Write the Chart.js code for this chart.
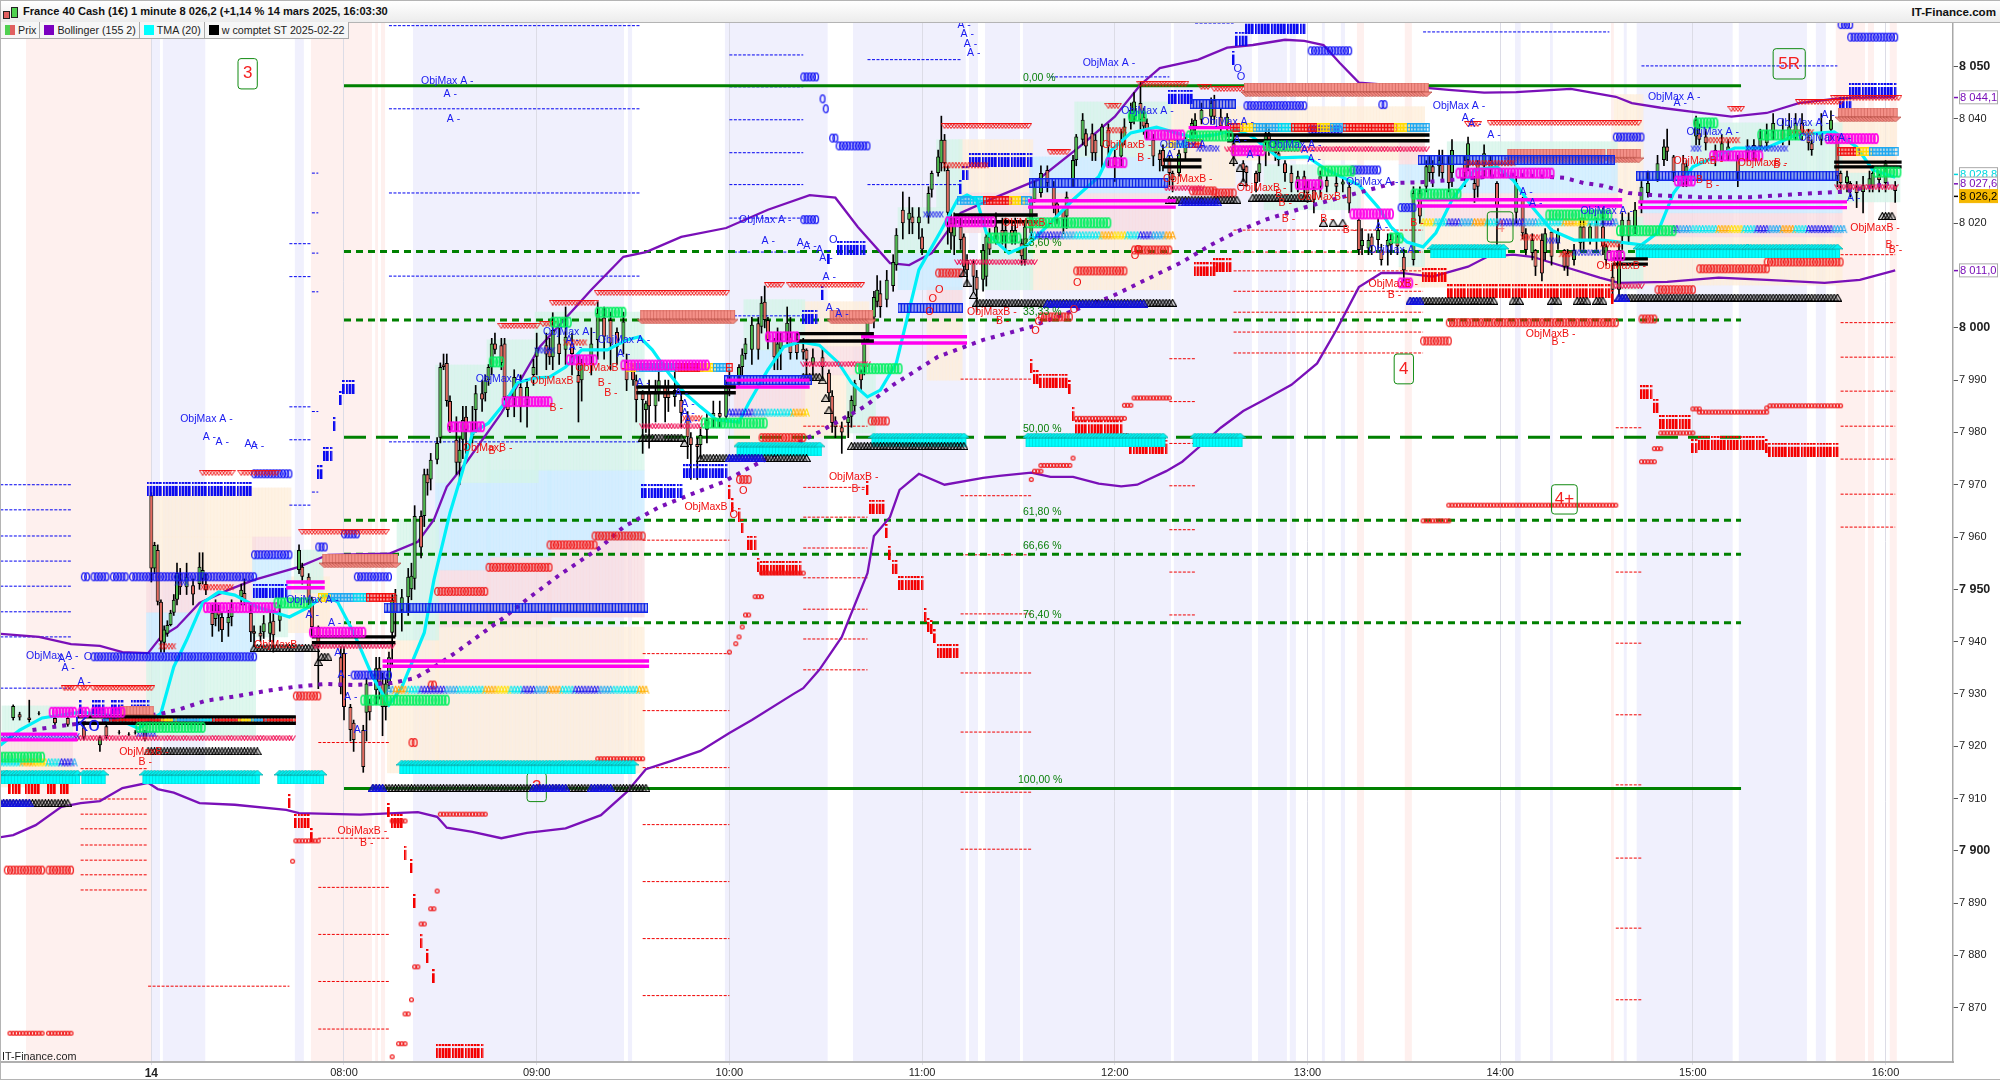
<!DOCTYPE html>
<html>
<head>
<meta charset="utf-8">
<title>France 40 Cash</title>
<script src="https://cdn.jsdelivr.net/npm/chart.js@4/dist/chart.umd.min.js"></script>
<style>
  html, body { margin: 0; padding: 0; background: #fff; overflow: hidden; }
  body { width: 2000px; height: 1080px; position: relative; font-family: "Liberation Sans", Arial, sans-serif; }
  canvas { position: absolute; left: 0; top: 0; }
  #head { position: absolute; left: 0; top: 0; width: 2000px; height: 21px; border-top: 1px solid #b4b4b4; border-bottom: 1px solid #b4b4b4; box-sizing: content-box;
    background: linear-gradient(#ffffff, #ececec); }
  #title { position: absolute; left: 23px; top: 4px; font-size: 11.1px; font-weight: bold; color: #111; white-space: nowrap; }
  #site { position: absolute; right: 4px; top: 4px; font-size: 11.6px; font-weight: bold; color: #111; }
  .ic { position: absolute; border: 1px solid #222; }
  #legend { position: absolute; left: 1px; top: 22px; height: 16px; display: flex; }
  .cell { height: 16px; line-height: 16px; font-size: 10.7px; color: #222; background: #f6f6f6; border-right: 1px solid #aaa; border-bottom: 1px solid #aaa; padding: 0 3px 0 4px; white-space: nowrap; display: flex; align-items: center; }
  .sw { width: 10px; height: 10px; margin-right: 3px; display: inline-block; }
  #leftbar { position: absolute; left: 0; top: 0; width: 1px; height: 1080px; background: #b4b4b4; }
  #botbar { position: absolute; left: 0; top: 1079px; width: 2000px; height: 1px; background: #b4b4b4; }
  #itf { position: absolute; left: 2px; top: 1050px; font-size: 10.8px; color: #222; }
</style>
</head>
<body>
<canvas id="chart" width="2000" height="1080"></canvas>
<div id="head">
  <div class="ic" style="left:3px;top:10px;width:5px;height:6px;background:#e06060"></div>
  <div class="ic" style="left:11px;top:6px;width:5px;height:9px;background:#50d050"></div>
  <div id="title">France 40 Cash (1€) 1 minute 8 026,2 (+1,14 % 14 mars 2025, 16:03:30</div>
  <div id="site">IT-Finance.com</div>
</div>
<div id="legend">
  <div class="cell"><span class="sw" style="background:linear-gradient(90deg,#50d050 50%,#e06060 50%)"></span>Prix</div>
  <div class="cell"><span class="sw" style="background:#7a00c0"></span>Bollinger (155 2)</div>
  <div class="cell"><span class="sw" style="background:#00ffff"></span>TMA (20)</div>
  <div class="cell"><span class="sw" style="background:#000"></span>w comptet ST 2025-02-22</div>
</div>
<div id="leftbar"></div>
<div id="botbar"></div>
<div id="itf">IT-Finance.com</div>

<script>
// times are minutes after 07:00 on the 14th, prices in index points
const hourTicks = [0, 60, 120, 180, 240, 300, 360, 420, 480, 540];
const hourLabels = ['14', '08:00', '09:00', '10:00', '11:00', '12:00', '13:00', '14:00', '15:00', '16:00'];
const priceTicks = [8050, 8040, 8020, 8000, 7990, 7980, 7970, 7960, 7950, 7940, 7930, 7920, 7910, 7900, 7890, 7880, 7870];

// [last price, text, nudge in points so boxes do not overlap]
const priceTags = [[8044.1, '8 044,1', 0, 'bol'], [8028.8, '8 028,8', 0.6, 'tma'], [8027.6, '8 027,6', 0, 'bol'], [8026.2, '8 026,2', -1, 'last'], [8011, '8 011,0', 0, 'bol']];

// candles: [t, open, close, high, low]
const candlesBefore = [[-43,7925.4,7927.7,7927.9,7925],[-41,7926.1,7925.5,7926.5,7925],[-38,7925.5,7925,7928.8,7924.6],[-35,7926.3,7926.2,7926.6,7926],[-30,7925.4,7924.4,7925.6,7923.5],[-26,7925.4,7924.1,7925.7,7923.8],[-21,7923.6,7921.7,7924,7921.2],[-16,7920.2,7921.7,7922,7919],[-14,7923.8,7921.9,7924.2,7921.5],[-10,7922.7,7922.6,7923,7922.3],[-7,7922.3,7922.2,7922.6,7922],[-5,7922.7,7922.6,7923,7922.3],[-2,7922.7,7921.3,7923,7921]];
const candlesH7 = [[0,7968,7954,7968.5,7951.4],[1,7954,7958.5,7959,7953],[2,7957.5,7947.6,7958.5,7947],[3,7947.6,7940,7948,7938],[4,7939.8,7942.3,7943,7938],[5,7941.5,7943.2,7944,7941],[6,7943.2,7945.5,7946,7943],[7,7945.5,7948,7949,7945],[8,7948,7953.1,7955,7947],[9,7951.8,7950.4,7954,7949],[11,7950.4,7952.4,7955,7949],[13,7950.8,7949,7952,7947],[15,7951,7954.3,7957,7950],[16,7952,7953.7,7957,7951],[17,7951,7949.8,7953,7949],[19,7945.5,7943.2,7947,7941],[20,7944.3,7946,7948,7943],[21,7946,7945,7947,7942],[22,7944.7,7942.2,7945.5,7940],[24,7943.5,7944.7,7946,7941],[25,7944.7,7946.6,7948,7943],[28,7948.5,7949.9,7951,7947],[29,7949.3,7948,7952,7947],[31,7945.5,7941.8,7947,7940],[32,7942,7941.5,7943,7939],[34,7941.7,7941,7943,7940],[35,7941.8,7943.5,7945,7940.6],[37,7941.5,7943.7,7946,7940],[38,7944,7941.2,7946,7938],[40,7944,7945.5,7947,7942],[46,7953.7,7957.5,7958.5,7953],[47,7954.3,7952.4,7955,7951],[49,7952.4,7948,7953,7947],[50,7948,7942.8,7948.5,7941],[52,7942.8,7939,7943,7931],[59,7937,7931.3,7939,7930]];
const candlesH8 = [[60,7937.8,7927.5,7939,7925],[62,7927.5,7923.1,7928,7921],[63,7924.5,7921.2,7925,7919],[66,7923.1,7916,7924,7915],[67,7926.4,7932,7933,7921],[68,7928.3,7926.5,7929,7925],[70,7930.7,7934.9,7937,7928],[71,7935,7932.2,7937,7929],[72,7932,7927.5,7934,7922],[73,7927.5,7932,7933,7925],[74,7932,7937,7938,7931],[75,7941.7,7948,7949,7935],[76,7949,7945.5,7950,7941],[78,7946,7948.5,7950,7942],[80,7948.5,7952.4,7954,7945],[81,7950,7952.6,7955,7948],[82,7952,7964,7966,7950],[84,7964,7958,7965,7956],[85,7964,7972,7973,7962],[86,7972,7970.3,7973,7968],[87,7971,7974.8,7976,7969],[89,7974.8,7978,7979,7974],[90,7979,7992.5,7993.3,7978],[91,7993,7992.5,7995,7992],[92,7993.3,7986,7995,7985],[93,7986,7981,7987,7980],[95,7978.6,7974.2,7983,7972],[96,7974.2,7976.7,7979,7970],[97,7978.6,7982.4,7985,7975],[98,7983,7980.5,7985,7976],[100,7979.5,7980.5,7985,7978],[101,7984.3,7987.5,7989,7980],[103,7987.5,7986.3,7990,7984],[104,7987.5,7990,7991,7986],[105,7990,7992.5,7993,7989],[106,7992.5,7997,7998,7991],[107,7997,7995.8,7999,7995],[109,7996.7,7993.3,7998,7992],[110,7997,7986.8,7998,7986],[111,7986.8,7984.3,7987,7983],[113,7986.8,7990.6,7992,7983],[115,7988.7,7984.9,7991,7982],[117,7986.2,7988.7,7990,7981],[119,7991,7992.5,7994,7989]];
const candlesH9 = [[120,7994.5,7996.2,7999,7991],[123,7996.7,7994.9,7999,7992],[124,7996,7994.4,7998,7993],[125,7994.4,7999.6,8002.9,7992],[127,7997,7995,8000,7993],[129,7995.8,7998.3,8004,7993],[131,7997,7995,7999,7991],[133,7991,7989.5,7995,7982],[134,7990,7993,7994,7986],[137,7994.4,7997,8000,7991],[139,7997.7,8002.9,8005,7994],[141,8002,7998.3,8004,7994],[143,8001.5,7997,8003,7992],[145,7999.2,7996.4,8000,7993],[147,7997.4,8001.2,8003,7995],[148,7993.3,7990,7995,7988],[150,7992,7990,7993,7989],[151,7990,7986.2,7991,7982],[153,7987.5,7986.2,7988,7976],[154,7984.3,7985.6,7986,7980],[155,7987.5,7985,7990,7977],[157,7985,7987.5,7990,7982],[158,7987.5,7990,7993,7986],[160,7988.7,7986.6,7990,7982],[161,7987.5,7986.6,7990,7984],[163,7986.8,7988.1,7992,7985],[165,7986.2,7983.7,7988,7981],[167,7982.4,7979.1,7984,7975],[168,7979.1,7977.6,7980,7971],[170,7977.8,7977.2,7979,7971],[171,7977.6,7979.5,7981,7975],[173,7980.5,7982.4,7984,7978],[175,7983,7983.7,7986,7981],[177,7983.7,7983,7986,7981],[179,7983,7988.7,7990,7982]];
const candlesH10 = [[180,7988.7,7990,7992,7987],[183,7990.6,7992.5,7993,7989],[184,7992.5,7994.9,7996,7991],[185,7995,7997,7998,7994],[187,7995.8,8000.6,8002,7993],[189,8000.9,7995.8,8002,7994],[190,8000.2,8004.8,8006,7999],[191,8005,8001.5,8008,8000],[192,8001.5,7997.7,8002,7996],[194,7997.7,7994.4,7998,7992],[195,7994.4,7997,8000,7992],[196,7996,7997.7,7999,7992],[198,7999,8001,8004,7997],[199,7998.3,7995.2,8002,7994],[201,7997,7995.2,7999,7994],[203,7996,7995.3,7998,7994],[204,7995.8,7993.9,7996,7991],[206,7993,7994.4,7996,7991],[209,7994.4,7992.5,7996,7990],[211,7991.4,7987.5,7992,7986],[212,7987,7981.8,7988,7980],[213,7981.8,7981,7983,7979],[215,7981,7980,7982,7976],[217,7981.8,7983,7984,7979],[218,7983,7986.2,7987,7981],[219,7985,7989.5,7990,7984],[221,7991.4,7990,7992,7988],[222,7992.5,7997,7998,7991],[223,7997.7,8002.5,8003,7997],[225,8002,8005.9,8007,8000],[226,8005,8007.3,8010,8004],[227,8006.6,8004,8009,8002],[229,8005.4,8009.2,8011,8004],[231,8008,8012.6,8014,8007],[232,8012,8017.8,8019,8011],[234,8022.6,8020,8026,8017],[236,8020.7,8022,8025,8018],[237,8021.3,8020,8023,8018],[239,8020,8021.3,8023,8017]];
const candlesH11 = [[240,8017.5,8015,8019,8014],[242,8021.3,8025.8,8027,8020],[243,8026.4,8029.6,8030,8025],[245,8029.6,8032.8,8034,8029],[246,8031.5,8036,8040.5,8030],[247,8036,8031.5,8037,8030],[248,8030.2,8022,8031,8016],[249,8020,8018.1,8022,8015],[250,8017.5,8020,8022,8014],[252,8019.4,8016.8,8021,8015],[253,8017.5,8011.7,8018,8010],[254,8013,8011,8014,8008],[256,8012.4,8009.8,8013,8007],[257,8009.8,8007.3,8011,8003],[259,8009.2,8014.9,8016,8007],[260,8009.8,8017.5,8018,8008],[261,8017.5,8015,8019,8014],[263,8017.5,8019.4,8022,8016],[265,8018.7,8017.5,8021,8016],[266,8017.5,8018.7,8021,8015],[268,8018.7,8017.5,8020,8016],[269,8017.5,8018.7,8021,8016],[271,8016.2,8013.7,8017,8012],[272,8013,8019.4,8020,8012],[274,8018.1,8024.5,8025,8017],[275,8024.5,8027,8028,8024],[277,8025.8,8029.6,8031,8025],[279,8030.2,8027.7,8031,8026],[281,8027,8023.2,8028,8022],[282,8023.8,8021.3,8024,8020],[284,8022.6,8020.7,8023,8018],[285,8021.3,8025.1,8026,8019],[287,8028.3,8032.1,8033,8027],[288,8032.1,8036.6,8037,8031],[290,8036,8039.8,8041,8035],[291,8037.2,8034.7,8038,8033],[293,8037.2,8033.4,8039,8032],[294,8036,8033.4,8037,8032],[296,8034.7,8038.5,8039,8030],[298,8037.9,8034.7,8039,8031]];
const candlesH12 = [[300,8032.8,8030.9,8034,8028],[302,8032.8,8036,8038,8031],[303,8036,8038.5,8040,8035],[305,8039.2,8041.7,8043,8038],[306,8040.4,8043.3,8045,8039],[308,8043,8039.8,8047,8038],[309,8040.4,8038.5,8042,8037],[310,8039.2,8037.9,8040,8036],[312,8036,8032.8,8037,8031],[314,8033.4,8032.1,8034,8030],[315,8034,8030.9,8035,8030],[317,8032.1,8029.6,8033,8027],[318,8029.6,8028.3,8030,8026],[320,8029.6,8033.4,8034,8029],[322,8033.4,8036,8037,8032],[324,8037.2,8039.2,8040,8036],[325,8038.5,8039.8,8041,8037],[327,8039.8,8041.7,8043,8039],[330,8040.4,8043,8044,8039],[331,8043.6,8040.4,8044.5,8039],[333,8040.4,8038.5,8042,8037],[335,8038.5,8040.4,8041,8037],[337,8035.3,8032.8,8037,8031],[340,8031.5,8030.2,8032,8028],[341,8030.9,8029.6,8031,8027],[344,8029.6,8027.7,8030,8026],[345,8029.6,8031.5,8033,8028],[347,8035.3,8037.2,8039,8031],[348,8037.2,8036,8038,8033],[350,8035.3,8033.4,8036,8032],[351,8033.4,8032.1,8034,8031],[353,8031.5,8029.6,8032,8028],[355,8029.6,8027.7,8031,8026],[357,8027.7,8029,8030,8026],[359,8029,8027,8030,8025]];
const candlesH13 = [[360,8027,8025.8,8028,8024],[362,8026.4,8024.5,8027,8022],[364,8027,8029,8030,8025],[366,8028.3,8027,8029,8026],[369,8027.7,8027,8029,8026],[371,8027.4,8028,8029,8026],[373,8027,8023.8,8028,8022],[376,8020.7,8014.9,8021,8014],[377,8015.6,8016.8,8019,8014],[379,8015.2,8016.8,8018,8014],[380,8017.5,8015.6,8018,8014],[382,8016.8,8018.7,8021,8015],[383,8015,8013,8016,8012],[385,8015.6,8016.8,8018,8012],[386,8017,8015.9,8018,8014],[388,8017.5,8015.6,8018,8014],[390,8013.6,8011,8015,8009],[393,8013,8025.8,8027,8012],[395,8025.8,8021.3,8027,8020],[397,8027,8030.9,8032,8026],[398,8029.6,8031.5,8033,8028],[399,8030.9,8029.6,8032,8027],[401,8030.9,8032.1,8034,8029],[402,8031.5,8029.6,8034,8028],[404,8031.5,8027.7,8033,8026],[405,8029.6,8034,8036,8027],[409,8032.1,8029.6,8033,8027],[410,8032.1,8035.3,8036.5,8030],[412,8027.7,8026.4,8029,8024],[413,8031.5,8027,8032,8025],[415,8031.5,8033.4,8035,8029],[417,8032.1,8030.2,8033,8029],[419,8027.7,8023.2,8028,8015]];
const candlesH14 = [[425,8022,8027.7,8029,8020],[427,8024.5,8018.1,8025,8017],[428,8018.1,8014.9,8019,8014],[430,8014.3,8016.8,8018,8013],[431,8014.9,8011.7,8015,8010],[433,8016.8,8010.4,8018,8009],[434,8014.3,8018.1,8019,8013],[436,8018.4,8013.6,8019,8012],[438,8016.2,8018.1,8019,8015],[440,8014.9,8011.7,8015,8011],[441,8014.3,8011.7,8015,8010],[443,8013,8014.9,8016,8012],[445,8016.2,8019.4,8021,8015],[446,8019.4,8016.5,8021,8015],[448,8016.8,8019.4,8020,8016],[450,8020,8016.8,8021,8015],[452,8019.4,8015.6,8023,8014],[453,8013,8015.6,8016,8012],[455,8009.8,8007.3,8012,8005],[457,8007.3,8014.9,8016,8006],[458,8017.5,8020.7,8022,8015],[460,8020.7,8017.5,8022,8016],[462,8019.4,8022.6,8024,8018],[464,8023.8,8027,8028,8022],[466,8025.8,8027.7,8030,8025],[469,8028.3,8031.5,8033,8028],[471,8032.1,8034.7,8036,8031],[472,8034.7,8033.7,8038,8032],[474,8032.8,8029.6,8033,8028],[477,8031.5,8029,8033,8027],[478,8028.3,8030.9,8032,8027]];
const candlesH15 = [[481,8036.6,8039.8,8040.5,8035],[482,8037.2,8036,8039,8035],[484,8036.6,8035.3,8038,8034],[487,8034,8032.1,8035,8031],[489,8033.4,8035.3,8037,8032],[491,8032.8,8034.7,8036,8032],[494,8032.1,8029.6,8033,8027],[497,8033.4,8034.7,8036,8032],[499,8035,8033.7,8036,8032],[501,8034.7,8036.3,8038,8034],[503,8035.3,8037.2,8039,8034],[505,8037.5,8039.2,8041,8036],[508,8037.9,8036,8040,8035],[510,8036.6,8038.5,8041,8035],[512,8037.5,8039.2,8041,8036],[514,8039.2,8037.2,8041,8036],[516,8036.6,8035.3,8038,8034],[517,8035.3,8034,8036,8033],[520,8036,8037.2,8041,8035],[523,8037.9,8039.8,8041.5,8036],[525,8036.6,8029,8037,8027],[526,8029.6,8027.7,8030,8026],[528,8027.7,8029,8030,8026],[529,8027.7,8026.4,8028,8025],[531,8027,8025.8,8028,8023],[533,8026,8027.3,8029,8022],[535,8027,8028.6,8030,8026],[536,8027,8029.6,8031,8026],[538,8029.3,8028.3,8029.9,8026],[540,8027.7,8031.5,8032,8026],[543,8027.3,8026.2,8028,8024]];

// indicator lines: [t, price]
const bollingerUp = [[-47,7941.5],[-35,7940.9],[-25,7939.5],[-16,7939.2],[-9,7938],[-1,7937.8],[3,7940.9],[8,7942.8],[15,7947.4],[24,7949.9],[32,7951.8],[46,7954.3],[55,7956.6],[74,7956.8],[83,7959.1],[88,7963.3],[92,7969.6],[98,7974.2],[109,7983.7],[121,7996.4],[137,8007.3],[147,8013.6],[154,8014.5],[165,8017.4],[179,8019.1],[192,8022.6],[205,8025.4],[213,8024.9],[220,8019.3],[230,8012.4],[236,8012],[243,8014.3],[252,8022],[263,8025],[276,8028.3],[289,8034.6],[300,8040.4],[308,8046.5],[314,8049.7],[326,8051.3],[335,8053.6],[343,8054.1],[353,8055.1],[359,8054.9],[365,8054.1],[370,8050.7],[376,8046.9],[397,8045.9],[404,8045.5],[415,8045],[425,8045.1],[442,8045.7],[456,8044.2],[461,8043],[470,8042.1],[480,8041.3],[492,8040.4],[503,8041.1],[513,8043],[524,8043.8],[529,8044],[543,8044.1]];
const bollingerDown = [[-47,7902.6],[-43,7903],[-36,7904.9],[-28,7908.4],[-22,7909.1],[-16,7909.5],[-9,7912],[-1,7913],[2,7911.8],[7,7911.1],[15,7909.1],[26,7908.8],[42,7907.8],[46,7907.2],[65,7906.9],[83,7907.4],[89,7906.5],[92,7904.4],[100,7903.6],[109,7902.4],[117,7903.4],[129,7904.3],[140,7906.8],[148,7911.2],[154,7915.6],[162,7917.2],[171,7919.1],[180,7922.5],[187,7925],[200,7930],[203,7931.1],[208,7934.6],[215,7940.9],[223,7953.1],[225,7960.2],[230,7963.8],[233,7969],[239,7972.1],[247,7970],[259,7971.3],[264,7971.7],[274,7972.3],[280,7971.5],[287,7971.5],[295,7970.2],[302,7969.7],[307,7970],[316,7972.6],[321,7974.4],[327,7977.6],[333,7980.9],[340,7984.1],[347,7986.4],[355,7989.1],[363,7993.2],[369,7999.6],[376,8007.8],[383,8010.5],[389,8010.5],[399,8009.8],[410,8011.7],[416,8013.6],[424,8014],[430,8013.6],[441,8011.5],[451,8009.6],[457,8008.6],[472,8008.8],[488,8009.6],[503,8009.2],[521,8008.6],[532,8009.2],[543,8011]];
const tmaLine = [[-47,7920.2],[-41,7923.1],[-34,7925.4],[-22,7926.5],[-13,7925.9],[-4,7923.4],[3,7926.3],[7,7935.2],[11,7940.3],[16,7947.4],[21,7949.5],[26,7948.9],[33,7946.6],[43,7944.7],[49,7946.6],[54,7948.9],[58,7947.6],[63,7941.7],[69,7933.2],[74,7927.9],[78,7931.3],[85,7941.7],[88,7951.8],[93,7964.6],[97,7972.8],[100,7979.9],[105,7981.8],[110,7985.6],[114,7989.5],[119,7990.4],[124,7990.6],[129,7992.5],[134,7995.8],[142,7995.8],[148,7997.7],[152,7998.3],[156,7995.8],[161,7991.4],[166,7987.6],[171,7984.9],[176,7982.4],[183,7982],[186,7985.6],[192,7992],[197,7996.4],[202,7997.3],[208,7996.7],[214,7993.3],[218,7989.5],[223,7986.8],[227,7988.1],[232,7993.3],[239,8011.1],[246,8018.7],[251,8024.5],[254,8025.4],[257,8024.5],[260,8018.2],[267,8014.3],[273,8015.9],[280,8020.1],[287,8024.5],[295,8028.9],[299,8034],[305,8037.3],[313,8038.4],[319,8037.3],[324,8036.5],[331,8036.9],[338,8037.9],[343,8036.5],[351,8032.5],[360,8032.7],[366,8030.2],[376,8027.3],[382,8023.1],[386,8019.3],[391,8016.4],[396,8015.5],[400,8018.2],[405,8024.5],[412,8030.2],[419,8030.8],[424,8028.3],[430,8023.1],[436,8018.7],[443,8016.8],[452,8016.8],[464,8015.9],[469,8018.2],[474,8025.8],[480,8030.8],[493,8034.4],[503,8034.4],[512,8036.9],[524,8037.5],[531,8034.6],[536,8030.2],[543,8028.8]];
const wComptet = [[-37,7923.1],[-28,7923.9],[3,7926.2],[9,7927.1],[17,7928.7],[27,7929.6],[36,7930.6],[44,7931.3],[54,7931.9],[63,7931.7],[75,7932.1],[82,7933],[88,7935.1],[95,7938],[110,7944.7],[117,7948.1],[127,7952.7],[140,7958.1],[147,7961.9],[158,7965.7],[169,7968.4],[178,7970.5],[186,7973.2],[208,7980.1],[222,7984.9],[231,7989.1],[245,7994.5],[259,7997.7],[274,8000.2],[288,8003.5],[299,8006],[311,8009.6],[321,8012.6],[330,8015.9],[338,8018.4],[347,8020.7],[360,8023.2],[387,8027.7],[397,8027.9],[424,8029.3],[440,8028.7],[446,8027.7],[452,8027.2],[460,8025.8],[467,8025.4],[482,8025],[498,8025],[513,8025.6],[526,8026],[541,8027.6]];

// retracement levels: [price, text]
const fibSolid = [[8046.3, '0,00 %'], [7911.9, '100,00 %']];
const fibShort = [[8014.6, '23,60 %'], [8001.5, '33,33 %'], [7963.2, '61,80 %'], [7956.7, '66,66 %'], [7943.6, '76,40 %']];
const fibLong = [[7979.1, '50,00 %']];

// session shading: [from, to]
const pinkBands = [[-39,0],[49.7,68.7],[69.7,70.6],[71.5,72.8],[375.4,377.6],[390.3,392.5],[454.5,455.4],[524.5,533.6],[534.5,536.4],[541.3,543.5]];
const lavenderBands = [[0,2.7],[3.6,16.8],[44.7,47.5],[81.5,147.2],[148.4,149.7],[178.6,210.6],[218.5,253.6],[254.6,257.4],[259.6,270.5],[271.4,317.5],[318.4,342.7],[344.6,353.6],[354.5,356.4],[364.5,365.4],[370.4,371.7],[424.6,426.4],[435.5,436.4],[458.5,459.4],[462.5,492.4],[494.3,515.5],[518.3,521.4]];

// pale projection blocks: [from, to, top, bottom]
const zonesOrange = [[-47,-25,7916.8,7912.2],[0,43,7969.4,7960],[0,32,7960,7953.3],[43,55,7952.4,7941.7],[74,89,7940.3,7914.9],[89,153,7942.8,7914.9],[182,203,7984.3,7977.2],[203,223,8005,7996.4],[203,217,7991,7979.1],[242,252,8001.5,7990],[252,274,8036,8025.8],[274,317,8018.2,8007.3],[317,337,8043.6,8027],[337,396,8042.3,8032.1],[389,396,8011.7,8007.8],[396,456,8020.1,8007.8],[456,464,8044.6,8007.8],[464,526,8017.4,8008.2],[526,543,8040.4,8029.6]];
const zonesPink = [[-46,-25,7921.2,7916.8],[-1,32,7953.3,7945.5],[32,43,7960,7957],[89,105,7953.7,7942.8],[105,124,7956.2,7942.8],[124,153,7959.4,7944.7],[182,203,7989.1,7984.3],[203,223,7996.4,7991],[242,252,8007.8,8001.5],[252,274,8025.8,8018.2],[274,317,8025.8,8018.2],[389,396,8036,8031.2],[396,456,8025.8,8020.1],[464,526,8022,8017.4]];
const zonesBlue = [[-1,32,7945.5,7936.5],[32,43,7956.2,7948.6],[89,105,7970.4,7953.7],[105,124,7972.8,7956.2],[124,153,7972.8,7959.4],[185,203,7995.8,7989.1],[233,252,8014.3,8007.3],[274,317,8032.7,8025.8],[389,396,8031.2,8027.7],[396,456,8032.5,8025.8],[464,526,8028.9,8022]];
const zonesGreen = [[-46,-25,7927.7,7921.2],[-1,32,7936.5,7921.8],[32,42,7948.6,7940.9],[45,53,7957.5,7949.3],[77,89,7963.3,7940.3],[89,105,7992.9,7970.4],[105,120,7997.7,7970.4],[120,153,8003,7972.8],[185,203,8005.4,7995.8],[217,225,7991,7979.9],[233,252,8023,8014.3],[245,252,8036,8023],[259,274,8018.2,8007.3],[288,317,8043.2,8032.7],[347,376,8031.2,8022.6],[389,396,8027.7,8011.7],[404,456,8035.6,8032.5],[458,464,8021.2,8007.3],[480,526,8039.2,8028.9],[525,544,8029.6,8024.1]];

// thin dotted target levels: [from, to, price]
const blueTargets = [[-47,-25,7970],[-47,-25,7965.2],[-47,-25,7960.2],[-47,-25,7955.4],[-47,-25,7950.6],[-47,-25,7945.7],[-47,-25,7940.9],[-47,-25,7931.1],[43,50,8016.1],[43,50,8009.8],[43,50,7984.9],[43,50,7978.6],[43,50,7966.1],[50,52,8029.6],[50,52,8022],[50,52,8014.3],[50,52,8006.9],[50,52,7984],[50,52,7968.6],[74,152,8057.8],[74,152,8041.9],[74,152,8025.8],[74,152,8009.9],[74,152,7978.2],[180,203,8052.2],[180,203,8046.1],[180,203,8039.8],[180,203,8033.5],[180,203,8027.4],[180,203,8021],[180,203,8014.5],[180,203,8002.3],[223,252,8051.3],[223,252,8027.4],[280,317,8048],[325,337,8058.3],[396,454,8056.6],[464,525,8050.1]];
const redTargets = [[-22,-1,7915.7],[-22,-1,7909.9],[-22,-1,7907],[-22,-1,7904.2],[-22,-1,7901.1],[-22,-1,7898.2],[-22,-1,7895.4],[-22,-1,7892.5],[-1,43,7874.1],[52,74,7920.7],[52,74,7902.4],[52,74,7893],[52,74,7884],[52,74,7875],[52,74,7865.9],[153,180,7959.4],[153,180,7937.7],[153,180,7926.8],[153,180,7915.9],[153,180,7905],[153,180,7894.1],[153,180,7883.2],[153,180,7872.3],[203,223,7981.2],[203,223,7969.5],[203,223,7963.8],[203,223,7957.9],[203,223,7952.2],[203,223,7946.2],[203,223,7940.5],[203,223,7934.6],[252,274,7990.2],[252,274,7967.9],[252,274,7956.6],[252,274,7945.3],[252,274,7934],[252,274,7922.7],[252,274,7911.2],[252,274,7900.3],[317,325,7994.1],[317,325,7985.9],[317,325,7977.9],[317,325,7969.8],[317,325,7961.4],[317,325,7953.3],[317,325,7945.1],[337,396,8018.7],[337,396,8014.5],[337,396,8010.9],[337,396,8007],[337,396,8003],[337,396,7999.2],[337,396,7995.2],[456,464,7980.9],[456,464,7953.3],[456,464,7939.7],[456,464,7926],[456,464,7912.6],[456,464,7898.6],[456,464,7885.2],[456,464,7871.5],[526,543,8014],[526,543,8001],[526,543,7994.4],[526,543,7987.9],[526,543,7981.2],[526,543,7974.9],[526,543,7968.2],[526,543,7961.9]];

// marker rows, one mark per minute: [from, to, price]
const blueIs = [[-1,31,7969.2],[32,42,7949.7],[-22,-22,7927.4],[-18,-15,7927.4],[-12,-9,7927.4],[-6,-1,7927.4],[60,63,7988.7],[59,59,7986.6],[57,57,7981.6],[54,56,7975.9],[52,53,7972.4],[255,274,8032.1],[253,254,8029.6],[252,252,8027],[214,222,8015.3],[211,211,8013.6],[317,324,8044.2],[341,359,8057.6],[338,341,8055.3],[337,337,8051.7],[529,543,8045.5],[526,529,8042.8],[153,165,7968.8],[166,179,7972.6],[203,207,8002.1],[209,209,8006.7]];
const redIs = [[-44,-41,7912.2],[-39,-35,7912.2],[-32,-30,7912.2],[-28,-26,7912.2],[43,43,7909.5],[45,49,7905.7],[50,50,7903],[74,74,7907.8],[75,78,7905.7],[79,79,7899.6],[81,81,7897.1],[82,82,7890.4],[84,84,7882.7],[86,86,7879.9],[88,88,7876],[89,103,7861.7],[233,240,7951.2],[241,241,7945.1],[242,242,7943.2],[243,243,7942.8],[244,244,7941],[245,251,7938.2],[180,180,7968.6],[181,181,7966.1],[183,183,7964.3],[184,184,7962.1],[186,188,7958.9],[189,189,7954.7],[190,202,7954.1],[223,223,7969.4],[224,228,7965.8],[229,229,7961.2],[230,230,7957],[231,232,7954.3],[274,274,7992.7],[275,276,7990.6],[277,285,7989.9],[286,286,7988.7],[287,287,7983.5],[288,302,7981],[303,304,7978.6],[305,316,7977.3],[464,467,7987.7],[468,469,7985.1],[470,479,7982],[480,481,7977.4],[482,502,7978],[503,503,7977.4],[504,525,7976.7],[396,403,8010.1],[404,454,8007],[455,455,8006],[325,331,8011.2],[331,336,8012]];
const redRingsBig = [[-45,-34,7896.3],[-32,-25,7896.3],[45,52,7929.6],[81,82,7920.7],[87,88,7931.7],[89,104,7949.6],[105,124,7954.2],[124,138,7958.5],[138,153,7960.2],[190,203,7979],[224,229,7982.2],[183,186,7971],[245,252,8010.5],[288,303,8010.9],[306,317,8014.9],[324,331,8026.2],[331,337,8025.8],[277,286,8002.1],[396,404,7997.5],[404,456,8001],[464,468,8001.7],[469,480,8007.3],[482,503,8011.3],[503,526,8012.6]];
const redRingsSmall = [[-44,-34,7865.1],[-32,-25,7865.1],[45,52,7901.9],[44,44,7898],[75,79,7905.7],[90,104,7907],[89,89,7892.3],[87,88,7888.9],[84,85,7886],[82,83,7877.8],[81,81,7871.5],[79,80,7868.8],[77,79,7863.1],[75,75,7860.6],[139,153,7917.6],[180,180,7938],[182,182,7939.6],[183,183,7940.9],[184,184,7942.8],[185,186,7945.1],[188,190,7948.6],[190,203,7953.1],[277,286,7973.7],[275,277,7972.6],[274,274,7971],[287,287,7975.1],[288,303,7982.7],[303,305,7985.2],[306,317,7986.6],[396,404,7963.1],[404,456,7966.1],[464,468,7974.4],[468,470,7976.9],[470,480,7979.9],[480,482,7984.5],[482,503,7983.9],[503,503,7984.7],[504,526,7985.1]];
const blueRings = [[-21,-20,7952.4],[-18,-14,7952.4],[-12,-8,7952.4],[-6,32,7952.4],[32,43,7956.6],[32,43,7972.1],[-18,-13,7937.1],[-12,-8,7937.1],[-7,32,7937.1],[63,74,7933.6],[64,74,7952.4],[52,54,7958.1],[60,64,7960.6],[203,207,8048],[214,223,8034.8],[203,207,8020.7],[341,359,8042.5],[361,373,8053],[361,370,8037.9],[374,382,8030.2],[456,464,8036.5],[389,393,8023],[529,543,8055.6],[526,529,8058],[383,384,8042.7],[209,209,8043.8],[210,210,8041.9],[212,213,8036.3]];
const redVs = [[-27,-24,7931.1],[-22,-20,7931.1],[-18,-13,7931.1],[-12,-7,7931.1],[-6,0,7931.1],[16,25,7972.3],[28,39,7972.3],[47,73,7961],[109,120,8000.4],[122,125,8000.8],[125,127,8004.8],[128,138,8004.8],[139,179,8006.7],[192,196,8008.2],[199,221,8008.2],[247,273,8038.6],[280,285,8033.6],[298,301,8042.5],[308,322,8046.7],[327,329,8046.1],[331,340,8045.7],[410,413,8039],[417,463,8039.2],[492,495,8041.9],[513,526,8043.2],[524,544,8044]];
const salmonRows = [[-9,0,7926.3],[54,76,7955.4],[153,181,8002],[212,224,8002],[341,397,8045.5],[423,452,8032.9],[454,463,8032.9],[526,543,8040.7]];
const cyanRows = [[-47,-45,7914.1],[-45,-33,7914.1],[-32,-23,7914.1],[-21,-19,7914.1],[-18,-15,7914.1],[-2,33,7914.1],[40,53,7914.1],[78,150,7916],[183,208,7976.9],[225,253,7978.6],[273,315,7978.6],[325,339,7978.6],[399,421,8014.7],[463,497,8014.7],[497,525,8014.7]];
const blackTriangles = [[-47,-45,7909.1],[-44,-33,7909.1],[-32,-26,7909.1],[-1,33,7919],[32,51,7938.8],[69,154,7912],[153,165,7979],[171,204,7975.1],[218,253,7977.4],[203,208,7990.6],[257,318,8004.8],[317,338,8024.5],[343,360,8024.9],[392,418,8005.2],[424,426,8005.2],[436,438,8005.2],[444,447,8005.2],[450,452,8005.2],[457,525,8005.8],[253,253,8010.5],[254,254,8008.6],[256,256,8006.3],[337,337,8032.1],[339,339,8030.6],[340,340,8027.9],[365,365,8020.1],[368,368,8020.1],[371,371,8020.1],[166,166,7978],[209,209,7990],[210,210,7986.6],[211,211,7984.3],[539,542,8021.4],[52,52,7936.1],[53,55,7937.1]];
const blueTriangles = [[-47,-45,7909.1],[-44,-38,7909.1],[69,72,7912],[119,123,7912],[124,129,7912],[137,140,7912],[141,143,7912],[279,309,8004.6],[321,332,8024],[392,395,8005.2],[457,459,8005.8],[180,190,7975.1]];
const letterRowsA = [[-47,-24,7916.8],[74,154,7930.7],[180,204,7983.7],[274,318,8017.6],[396,456,8020.1],[474,527,8018.8]];
const letterRowsB = [[-14,44,7925],[53,75,7948.4],[252,273,8024.3],[149,180,7992.4],[336,389,8038.3],[389,397,8038.3],[317,326,8035.2],[526,543,8033.7]];
const magentaRings = [[93,103,7981.1],[110,124,7985.9],[130,138,7993.9],[147,173,7992.9],[192,201,7998.3],[17,39,7946.5],[50,66,7941.8],[-31,-24,7926.5],[-22,-20,7926.5],[-18,-13,7926.5],[-12,-9,7926.5],[248,262,8020.3],[310,321,8036.9],[298,303,8031.6],[337,346,8033.9],[357,364,8027.4],[374,386,8021.8],[407,436,8029.6],[454,458,8013.8],[475,480,8028.1],[486,501,8032.9],[522,537,8036.2],[389,392,8008.6]];
const greenRings = [[125,130,8001.1],[139,147,8003],[106,109,7993.5],[172,191,7981.8],[220,233,7992.2],[-4,16,7923.6],[-47,-34,7917.9],[39,49,7947.4],[66,92,7928.8],[273,298,8020.1],[261,270,8017.2],[305,309,8040.5],[323,336,8036.7],[347,357,8034.8],[364,374,8030],[386,389,8017.2],[393,407,8025.6],[435,454,8021.6],[457,474,8018.6],[481,487,8039.2],[501,513,8036.9],[537,544,8029.8]];
const blueBlocks = [[73,154,7946.5],[179,205,7990],[233,252,8003.8],[274,316,8027.7],[324,337,8042.8],[395,455,8032.1],[463,525,8029.1]];
const crimsonRows = [[-23,44,7921.6],[51,75,7939.2],[153,171,7981.2],[203,223,7993.1],[251,275,8012.6],[316,327,8026.8],[335,397,8034.2],[456,464,8008],[525,543,8027]];
const blueCrosses = [[497,509,8034.4],[443,451,8014.5],[435,438,8016.8],[480,482,8034.4],[241,246,8021.8],[326,332,8034.4],[120,125,7995.8],[8,11,7951.4],[-14,-11,7925.8],[-4,1,7922.5],[-47,-23,7922]];
const redCrosses = [[129,135,7997.3],[166,171,7982.8],[247,260,8031.2],[298,303,8037.9],[410,424,8031.6],[427,432,8017.4],[439,442,8014.2],[452,457,8016.1],[485,494,8036],[511,517,8037.5],[16,25,7950.5],[3,7,7939.2]];

// double bars: [from, to, price]
const magentaBars = [[-47,-23,7922.3],[-47,-23,7921.2],[72,155,7936.3],[72,155,7935.3],[179,205,7990],[179,205,7988.7],[221,254,7998.3],[221,254,7997.1],[273,319,8024.3],[273,319,8023.1],[323,336,8038.3],[394,458,8024.5],[394,458,8023.3],[463,528,8024.1],[463,528,8023],[42,54,7951.4],[42,54,7950.3]];
const blackBars = [[-23,45,7925.6],[-23,45,7924.4],[50,76,7940.9],[50,76,7939.8],[151,182,7988.7],[151,182,7987.6],[201,225,7998.9],[201,225,7997.5],[250,276,8021.6],[250,276,8020.3],[315,327,8032.1],[315,327,8030.8],[335,398,8036.9],[335,398,8035.8],[455,466,8013.2],[455,466,8012.2],[524,545,8031.7],[524,545,8030.8]];

// chart notes: [t, price]
const labelsObjMaxA = [[84,8047.2],[9,7982.6],[-39,7937.3],[101,7990.2],[122,7999.2],[139,7997.7],[183,8020.7],[290,8050.7],[302,8041.5],[348,8035],[372,8027.9],[327,8039.4],[399,8042.5],[466,8044.2],[478,8037.5],[506,8039.2],[513,8036.2],[445,8022.4],[42,7948],[379,8014.9],[314,8035]];
const labelsA = [[91,8044.8],[92,8040],[16,7979.1],[20,7978.2],[29,7977.8],[31,7977.4],[-29,7936.7],[-28,7935],[-23,7932.3],[55,7943.5],[48,7945.1],[57,7937.8],[58,7933.6],[60,7929.4],[63,7923.1],[129,7997.7],[130,7996.4],[145,7994.9],[151,7989.5],[163,7987.5],[165,7985.5],[165,7983.7],[166,7982.4],[210,8003.8],[213,8002.7],[190,8016.6],[201,8016.2],[203,8015.7],[207,8014.9],[208,8013.4],[209,8009.8],[251,8058],[252,8056.2],[253,8054.3],[254,8052.6],[358,8034],[360,8032.3],[316,8033.1],[337,8036],[341,8033.1],[381,8019.3],[408,8040.2],[410,8039],[416,8036.9],[474,8043],[426,8026],[429,8023.9],[528,8024.9],[520,8040.7]];
const labelsObjMaxB = [[-10,7918.9],[58,7903.8],[32,7939.4],[97,7977],[118,7989.9],[132,7992.4],[166,7965.8],[211,7971.5],[296,8035],[315,8028.5],[265,8020.1],[254,8003],[338,8026.8],[357,8025],[379,8008.4],[474,8031.8],[494,8031.6],[529,8019.1],[450,8011.9],[428,7998.9]];
const labelsB = [[-4,7917],[65,7901.5],[105,7976.4],[124,7984.7],[139,7989.5],[141,7987.5],[218,7969.2],[307,8032.5],[350,8025.6],[351,8023.9],[352,8020.8],[364,8020.8],[371,8018.7],[385,8006.3],[481,8028.3],[484,8027.4],[505,8031.2],[436,7997.3],[263,8001.3],[392,8020.1],[540,8015.9],[541,8014.9]];
const labelsRedO = [[183,7968.8],[180,7964.3],[244,8007.3],[242,8005.5],[241,8003],[287,8008.6],[274,7999.4],[275,8001.2],[286,8003.4],[305,8013.7],[306,8014.9]];
const labelsBlueO = [[-21,7937.1],[338,8048],[337,8049.6],[211,8016.8]];

// wave counts in a box: [from, to, top, bottom, text]
const waveBoxes = [[27,33,8051.5,8045.7,'3'],[505,515,8053.4,8047.6,'5R'],[387,393,7995,7989.3,'4'],[436,444,7970,7964.4,'4+']];
const waveBoxesFaint = [[416,424,8022.2,8016.4,'4']];
const waveBoxesBehind = [[117,123,7914.9,7909.4,'3']];

// ---- helpers ----
const fontFamily = '"Liberation Sans", Arial, sans-serif';

function perMinute(rows) {
  const pts = [];
  rows.forEach(function (r) {
    for (let t = r[0]; t <= r[1]; t++) pts.push({ x: t, y: r[2] });
  });
  return pts;
}

function zoneBars(rows) {
  const pts = [];
  rows.forEach(function (r) {
    for (let t = r[0]; t <= r[1]; t++) pts.push({ x: t, y: [r[3], r[2]] });
  });
  return pts;
}

function segments(rows) {
  const pts = [];
  rows.forEach(function (r) {
    pts.push({ x: r[0], y: r[2] }, { x: r[1], y: r[2] }, { x: r[1], y: null });
  });
  return pts;
}

function xy(rows) {
  return rows.map(function (r) { return { x: r[0], y: r[1] }; });
}

// little canvases used as point styles
function glyph(w, h, paint) {
  const c = document.createElement('canvas');
  c.width = w;
  c.height = h;
  paint(c.getContext('2d'), w, h);
  return c;
}

function ring(color, w, h, lw) {
  return glyph(w + 2, h + 2, function (g, cw, ch) {
    g.strokeStyle = color;
    g.lineWidth = lw;
    g.beginPath();
    g.ellipse(cw / 2, ch / 2, w / 2 - lw / 2, h / 2 - lw / 2, 0, 0, Math.PI * 2);
    g.stroke();
  });
}

function iMark(color) {
  return glyph(3, 14, function (g) {
    g.fillStyle = color;
    g.fillRect(0, 0, 2.4, 2);
    g.fillRect(0, 4, 2.4, 10);
  });
}

function triangleDown(line) {
  return glyph(8, 6, function (g) {
    g.strokeStyle = line;
    g.lineWidth = 1;
    g.beginPath();
    g.moveTo(0.5, 0.5);
    g.lineTo(7.5, 0.5);
    g.lineTo(4, 5.5);
    g.closePath();
    g.stroke();
  });
}

function triangleUp(fill, line) {
  return glyph(9, 8, function (g) {
    g.fillStyle = fill;
    g.strokeStyle = line;
    g.lineWidth = 1.1;
    g.beginPath();
    g.moveTo(0.5, 7.5);
    g.lineTo(8.5, 7.5);
    g.lineTo(4.5, 0.5);
    g.closePath();
    g.fill();
    g.stroke();
  });
}

function upArrow() {
  return glyph(11, 14, function (g) {
    g.fillStyle = '#00ffff';
    g.fillRect(3, 4, 5, 10);
    g.strokeStyle = 'rgba(0,170,170,0.45)';
    g.lineWidth = 0.8;
    g.strokeRect(3.5, 5, 4, 9);
    g.beginPath();
    g.moveTo(0, 5);
    g.lineTo(11, 5);
    g.lineTo(5.5, 0);
    g.closePath();
    g.fillStyle = '#00f4f4';
    g.fill();
    g.strokeStyle = '#10a8a8';
    g.stroke();
  });
}

function downArrow() {
  return glyph(11, 14, function (g) {
    g.fillStyle = '#f49088';
    g.fillRect(3, 0, 5, 10);
    g.strokeStyle = 'rgba(200,90,80,0.7)';
    g.lineWidth = 0.8;
    g.strokeRect(3.5, 0, 4, 9);
    g.beginPath();
    g.moveTo(0, 9);
    g.lineTo(11, 9);
    g.lineTo(5.5, 14);
    g.closePath();
    g.fillStyle = '#f48c84';
    g.fill();
    g.strokeStyle = '#b85048';
    g.stroke();
  });
}

function letter(ch, color) {
  return glyph(9, 11, function (g) {
    g.fillStyle = color;
    g.font = '10px ' + fontFamily;
    g.textAlign = 'center';
    g.textBaseline = 'middle';
    g.fillText(ch, 4.5, 6);
  });
}

function boxMark(color) {
  return glyph(7, 9, function (g) {
    g.strokeStyle = color;
    g.lineWidth = 1.2;
    g.strokeRect(0.6, 0.6, 5.6, 7.6);
    g.beginPath();
    g.moveTo(0.6, 4.5);
    g.lineTo(6, 4.5);
    g.stroke();
  });
}

function block() {
  return glyph(4, 10, function (g) {
    g.strokeStyle = '#1028e8';
    g.lineWidth = 1.4;
    g.strokeRect(0.7, 0.7, 2.6, 8.6);
  });
}

function zig(color) {
  return glyph(7, 6, function (g) {
    g.strokeStyle = color;
    g.lineWidth = 1.1;
    g.beginPath();
    g.moveTo(0.5, 0.5);
    g.lineTo(3.5, 5.5);
    g.lineTo(6.5, 0.5);
    g.stroke();
  });
}

function rowSet(rows, style, extra) {
  return Object.assign({
    type: 'scatter',
    data: perMinute(rows),
    pointStyle: style,
    pointRadius: 5,
    showLine: false
  }, extra || {});
}

function zoneSet(rows, color) {
  return {
    type: 'bar',
    data: zoneBars(rows),
    backgroundColor: color,
    grouped: false,
    barPercentage: 1,
    categoryPercentage: 1,
    maxBarThickness: 3.3
  };
}

function levelSet(rows, color, width, dash) {
  return {
    type: 'line',
    data: segments(rows),
    borderColor: color,
    borderWidth: width,
    borderDash: dash || [],
    pointRadius: 0,
    spanGaps: false,
    fill: false,
    tension: 0
  };
}

function curveSet(rows, color, width, dash) {
  return {
    type: 'line',
    data: xy(rows),
    borderColor: color,
    borderWidth: width,
    borderDash: dash || [],
    pointRadius: 0,
    fill: false,
    tension: 0
  };
}

function fibRows(levels) {
  return levels.map(function (l) { return [60, 495, l[0]]; });
}

// ---- candles ----
const allCandles = [].concat(candlesBefore, candlesH7, candlesH8, candlesH9, candlesH10, candlesH11, candlesH12, candlesH13, candlesH14, candlesH15);
const wicks = allCandles.map(function (c) { return { x: c[0], y: [c[4], c[3]] }; });
const bodies = allCandles.map(function (c) { return { x: c[0], y: [c[1], c[2]] }; });
const bodyColors = allCandles.map(function (c) { return c[2] >= c[1] ? '#4cb84c' : '#e2695e'; });

// repeating colours of the letter rows
const letterPalette = ['#1818f0', '#1818f0', '#20a8f0', '#00e8f0', '#00e8f0', '#ffb000', '#ffe000', '#00e8f0', '#1818f0', '#20a8f0', '#ffa000', '#00e8f0'].map(function (c) { return letter('A', c); });
const boxPalette = ['#f01010', '#f01010', '#f01010', '#f01010', '#ffd800', '#20a8f0', '#20a8f0', '#00d8f0', '#f01010', '#f01010', '#ffd800', '#20a8f0'].map(boxMark);

// bottom layer comes first in this list
const layers = [
  zoneSet(zonesOrange, 'rgba(253,238,218,0.75)'),
  zoneSet(zonesPink, 'rgba(248,220,224,0.75)'),
  zoneSet(zonesBlue, 'rgba(205,236,255,0.8)'),
  zoneSet(zonesGreen, 'rgba(212,244,232,0.75)'),
  levelSet(blueTargets, '#0000f0', 1, [3, 1.5]),
  levelSet(redTargets, '#f00000', 1, [3, 1.5]),
  levelSet(fibRows(fibSolid), '#008000', 3),
  levelSet(fibRows(fibShort), '#008000', 3, [7, 5]),
  levelSet(fibRows(fibLong), '#008000', 3, [22, 10]),
  curveSet(bollingerUp, '#7a10b8', 2.3),
  curveSet(bollingerDown, '#7a10b8', 2.3),
  { type: 'bar', data: wicks, backgroundColor: '#000', grouped: false, barPercentage: 1, categoryPercentage: 1, maxBarThickness: 1 },
  { type: 'bar', data: bodies, backgroundColor: bodyColors, borderColor: '#000', borderWidth: 1, borderSkipped: false, grouped: false, barPercentage: 1.3, categoryPercentage: 1, maxBarThickness: 4 },
  curveSet(tmaLine, '#00f0f8', 3.2),
  curveSet(wComptet, '#7a10b8', 4, [4, 6]),
  rowSet(redIs, iMark('#f40000')),
  rowSet(blueIs, iMark('#0a0af0')),
  rowSet(redRingsBig, ring('#f01818', 6, 9, 1.3)),
  rowSet(redRingsSmall, ring('#f01818', 5, 5, 1.2)),
  rowSet(blueRings, ring('#1010f4', 6, 9, 1.3)),
  rowSet(redVs, triangleDown('#f01010')),
  rowSet(salmonRows, downArrow()),
  rowSet(cyanRows, upArrow()),
  rowSet(blackTriangles, triangleUp('rgba(120,120,120,0.3)', '#000')),
  rowSet(blueTriangles, triangleUp('rgba(30,30,240,0.5)', '#1010e0')),
  rowSet(letterRowsA, function (c) { return letterPalette[((c.raw.x + 60) >> 2) % letterPalette.length]; }),
  rowSet(letterRowsB, function (c) { return boxPalette[((c.raw.x + 60) >> 2) % boxPalette.length]; }),
  rowSet(crimsonRows, zig('#f0185c')),
  rowSet(blueBlocks, block()),
  rowSet(blueCrosses, letter('x', '#1818f0')),
  rowSet(redCrosses, letter('x', '#f01010')),
  levelSet(magentaBars, '#ff00f0', 3.4),
  levelSet(blackBars, '#000', 3.4),
  rowSet(magentaRings, ring('#ff00e8', 6, 11, 1.7)),
  rowSet(greenRings, ring('#00f060', 6, 11, 1.6))
];

// the first dataset of a chart is painted last, so flip the list
const datasets = layers.slice().reverse();

function drawBoxes(g, x, y, rows, textColor) {
  rows.forEach(function (b) {
    const x0 = x.getPixelForValue(b[0]), x1 = x.getPixelForValue(b[1]);
    const y0 = y.getPixelForValue(b[2]), y1 = y.getPixelForValue(b[3]);
    g.strokeStyle = '#118a11';
    g.lineWidth = 1;
    g.beginPath();
    g.roundRect(x0, y0, x1 - x0, y1 - y0, 3);
    g.stroke();
    g.fillStyle = textColor;
    g.font = '17px ' + fontFamily;
    g.textAlign = 'center';
    g.fillText(b[4], (x0 + x1) / 2, (y0 + y1) / 2);
    g.textAlign = 'left';
  });
}

// ---- plugins ----
const shadingPlugin = {
  id: 'shading',
  beforeDraw: function (chart) {
    const g = chart.ctx, a = chart.chartArea, x = chart.scales.x;
    g.save();
    function paint(rows, color) {
      g.fillStyle = color;
      rows.forEach(function (r) {
        const x0 = x.getPixelForValue(r[0]);
        const x1 = x.getPixelForValue(r[1]);
        g.fillRect(x0, a.top, x1 - x0, a.bottom - a.top);
      });
    }
    paint(pinkBands, '#fef0ee');
    paint(lavenderBands, '#f0f0fd');
    g.restore();
  },
  beforeDatasetsDraw: function (chart) {
    const g = chart.ctx;
    g.save();
    g.textBaseline = 'middle';
    drawBoxes(g, chart.scales.x, chart.scales.y, waveBoxesBehind, '#f42020');
    g.restore();
  }
};

const notesPlugin = {
  id: 'notes',
  afterDatasetsDraw: function (chart) {
    const g = chart.ctx, x = chart.scales.x, y = chart.scales.y;
    g.save();
    g.textBaseline = 'middle';
    g.textAlign = 'left';

    function write(rows, text, color, font) {
      g.fillStyle = color;
      g.font = font;
      rows.forEach(function (r) {
        g.fillText(text, x.getPixelForValue(r[0]), y.getPixelForValue(r[1]));
      });
    }
    const small = '10.5px ' + fontFamily;
    write(labelsObjMaxA, 'ObjMax A -', '#1a1af0', small);
    write(labelsA, 'A -', '#1a1af0', small);
    write(labelsObjMaxB, 'ObjMaxB -', '#f01010', small);
    write(labelsB, 'B -', '#f01010', small);
    write(labelsRedO, 'O', '#f01010', '11px ' + fontFamily);
    write(labelsBlueO, 'O', '#1a1af0', '11px ' + fontFamily);
    write([[-24, 7924]], 'Ko', '#1a1af0', '21px ' + fontFamily);

    // percentages sit just above their level line
    g.font = '10.5px ' + fontFamily;
    g.fillStyle = '#0a800a';
    fibSolid.concat(fibShort, fibLong).forEach(function (l) {
      const left = l[1] === '100,00 %' ? 1018 : 1023;
      g.fillText(l[1], left, y.getPixelForValue(l[0]) - 8);
    });

    // boxed wave counts
    drawBoxes(g, x, y, waveBoxes, '#f42020');
    drawBoxes(g, x, y, waveBoxesFaint, 'rgba(244,32,32,0.45)');

    // last value tags beside the price axis
    const tagStyle = { bol: ['#7a10b8', '#fff', '#aaa'], tma: ['#00d8e0', '#fff', '#aaa'], last: ['#000', '#f5b800', '#f5b800'] };
    priceTags.slice().sort(function (a, b) { return (a[3] === 'tma' ? 0 : 1) - (b[3] === 'tma' ? 0 : 1); }).forEach(function (tag) {
      const py = y.getPixelForValue(tag[0] + tag[2]);
      const s = tagStyle[tag[3]];
      g.fillStyle = tag[3] === 'last' ? '#000' : s[0];
      g.fillRect(1954, py - 0.5, 4, 1.5);
      g.fillStyle = s[1];
      g.fillRect(1959, py - 6.5, 38, 13);
      g.strokeStyle = s[2];
      g.lineWidth = 1;
      g.strokeRect(1959.5, py - 6.5, 38, 13);
      g.fillStyle = s[0];
      g.font = '11.2px ' + fontFamily;
      g.fillText(tag[1], 1960, py + 0.5);
    });
    g.restore();
  }
};

new Chart(document.getElementById('chart').getContext('2d'), {
  type: 'bar',
  data: { datasets: datasets },
  plugins: [shadingPlugin, notesPlugin],
  options: {
    responsive: false,
    animation: false,
    devicePixelRatio: 1,
    events: [],
    layout: { autoPadding: false, padding: { left: 1, top: 22, right: 0, bottom: 0 } },
    plugins: { legend: { display: false }, title: { display: false }, tooltip: { enabled: false } },
    scales: {
      x: {
        type: 'linear',
        offset: false,
        min: -46.8,
        max: 561,
        afterFit: function (s) { s.height = 18; s.paddingLeft = 0; s.paddingRight = 0; },
        afterBuildTicks: function (s) { s.ticks = hourTicks.map(function (v) { return { value: v }; }); },
        border: { color: '#b0b0b0', width: 2 },
        grid: { offset: false, color: '#dcdce6', lineWidth: 1, tickLength: 3 },
        ticks: {
          autoSkip: false,
          maxRotation: 0,
          padding: 1,
          color: '#222',
          font: function (c) {
            return c.tick && c.tick.value === 0 ? { family: fontFamily, size: 12, weight: 'bold' } : { family: fontFamily, size: 11 };
          },
          callback: function (v) { return hourLabels[hourTicks.indexOf(v)]; }
        }
      },
      y: {
        type: 'linear',
        position: 'right',
        min: 7859.6,
        max: 8058.5,
        afterFit: function (s) { s.width = 47; s.paddingTop = 0; s.paddingBottom = 0; },
        afterBuildTicks: function (s) { s.ticks = priceTicks.map(function (v) { return { value: v }; }); },
        border: { color: '#a8a8a8', width: 1.5 },
        grid: { drawOnChartArea: false, color: '#555', tickLength: 5 },
        ticks: {
          padding: 1,
          color: '#222',
          font: function (c) {
            return c.tick && c.tick.value % 50 === 0 ? { family: fontFamily, size: 12.5, weight: 'bold' } : { family: fontFamily, size: 11 };
          },
          callback: function (v) { return String(v).replace(/(\d)(\d{3})$/, '$1 $2'); }
        }
      }
    }
  }
});
</script>
</body>
</html>
